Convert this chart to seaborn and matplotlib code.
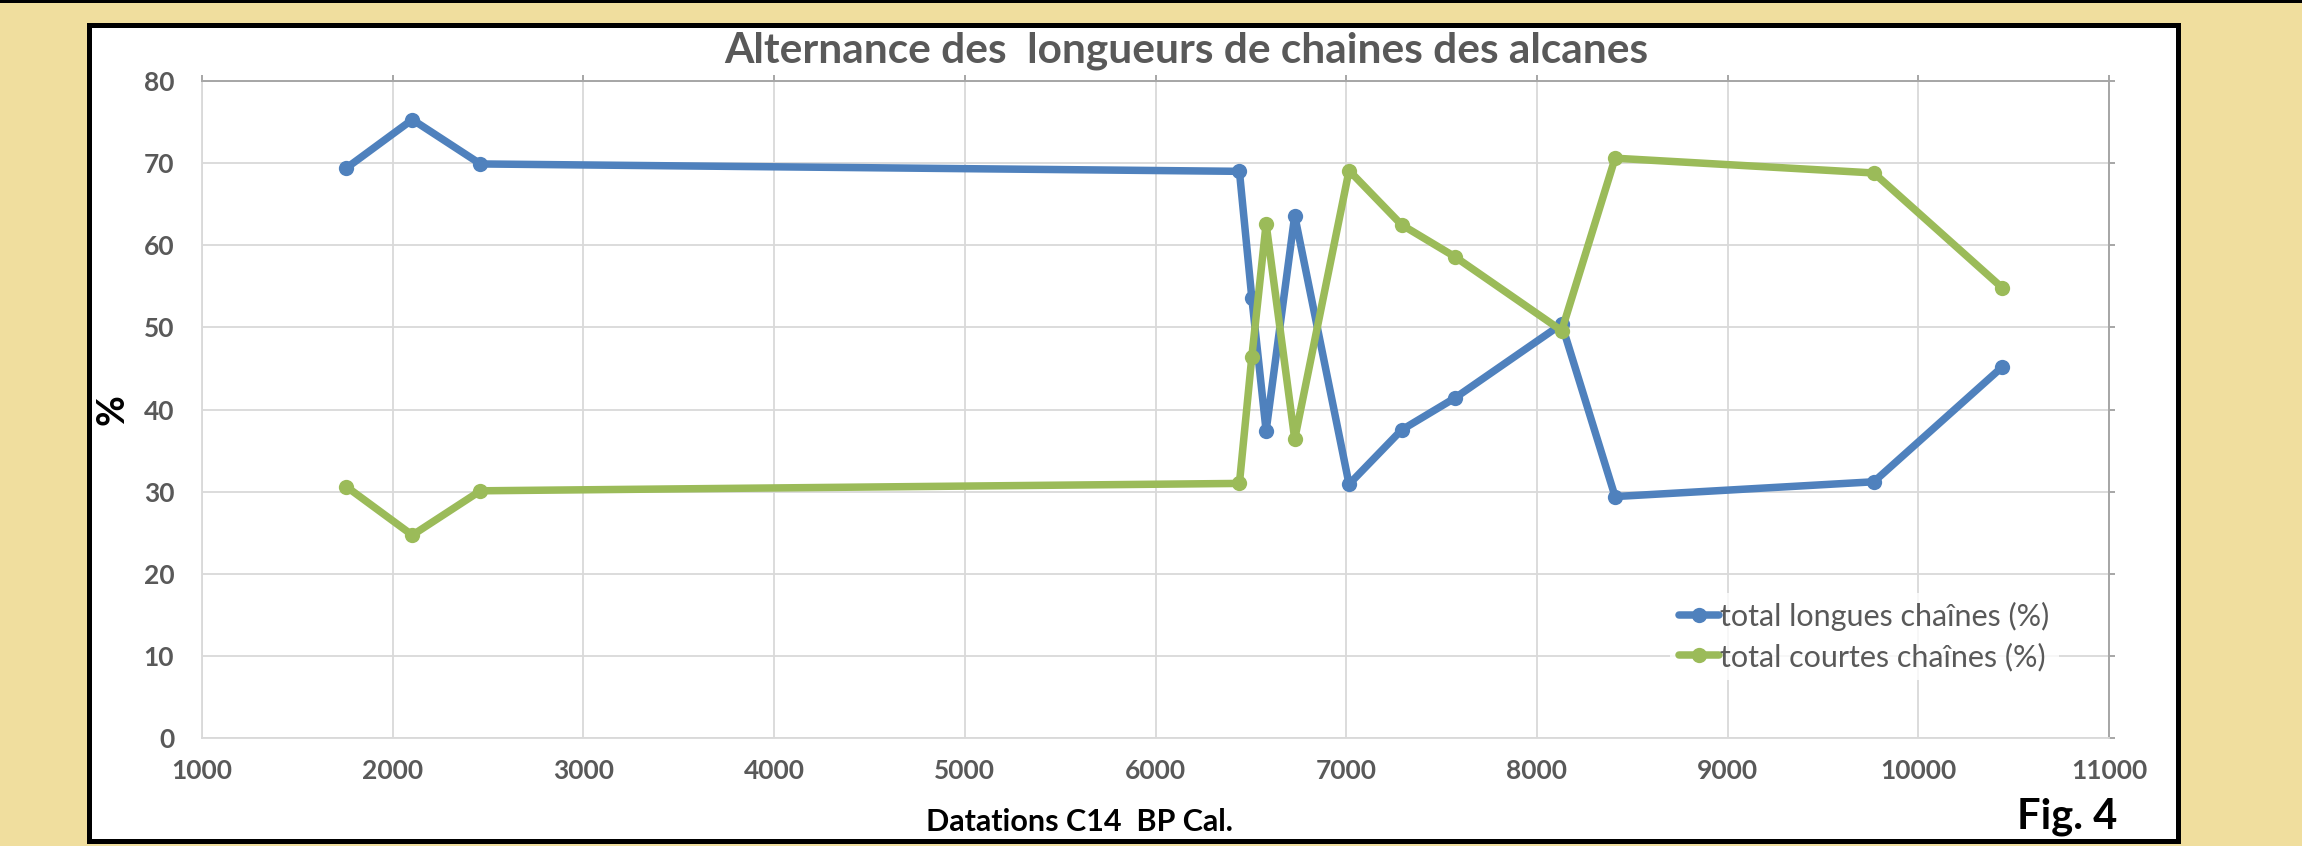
import pandas as pd
import seaborn as sns
import matplotlib.pyplot as plt
from matplotlib.patches import Rectangle

# dates (BP cal.) shared by both series
dates = [1757, 2103, 2460, 6440, 6505, 6580, 6730, 7015, 7290, 7570, 8130, 8410, 9767, 10441]
longues = [69.4, 75.3, 69.9, 69.0, 53.6, 37.4, 63.6, 30.9, 37.5, 41.4, 50.4, 29.4, 31.2, 45.2]
courtes = [30.6, 24.7, 30.1, 31.0, 46.4, 62.6, 36.4, 69.1, 62.5, 58.6, 49.6, 70.6, 68.8, 54.8]

series_names = ["total longues chaînes (%)", "total courtes chaînes (%)"]
series_colors = ["#4F81BD", "#9BBB59"]
x_ticks = list(range(1000, 11001, 1000))
y_ticks = list(range(0, 81, 10))

df = pd.DataFrame({
    "date": dates + dates,
    "pct": longues + courtes,
    "serie": [series_names[0]] * len(dates) + [series_names[1]] * len(dates),
})

sns.set_theme(style="white")
plt.rcParams["font.family"] = ["Lato", "DejaVu Sans"]

W, H = 2302, 846
fig = plt.figure(figsize=(W / 100, H / 100), dpi=100, facecolor="#F0DE9E")

# black stripe at the very top and the black framed white panel
fig.add_artist(Rectangle((0, 1 - 3 / H), 1, 3 / H, transform=fig.transFigure,
                         facecolor="black", edgecolor="none", zorder=-5))
fig.add_artist(Rectangle((88.5 / W, 1 - 840.5 / H), (2177.5 - 88.5) / W, (840.5 - 25.5) / H,
                         transform=fig.transFigure, facecolor="white",
                         edgecolor="black", lw=3.6, zorder=-5))

ax = fig.add_axes([202 / W, 1 - 738 / H, (2109 - 202) / W, (738 - 81) / H])
ax.set_facecolor("white")

sns.lineplot(data=df, x="date", y="pct", hue="serie", palette=series_colors,
             marker="o", markersize=11, markeredgewidth=0, linewidth=5.4,
             sort=False, legend=False, ax=ax)

ax.set_xlim(1000, 11000)
ax.set_ylim(0, 80)
ax.set_xticks(x_ticks)
ax.set_yticks(y_ticks)
ax.grid(True, color="#D9D9D9", linewidth=1.3)
ax.set_axisbelow(True)

for side in ["top", "right"]:
    ax.spines[side].set_color("#A6A6A6")
    ax.spines[side].set_linewidth(1.4)
for side in ["left", "bottom"]:
    ax.spines[side].set_color("#D9D9D9")
    ax.spines[side].set_linewidth(1.3)

ax.tick_params(axis="x", bottom=False, top=True, labelbottom=True, labeltop=False,
               direction="out", length=4, width=1.4, color="#A6A6A6", pad=11,
               labelsize=19, labelcolor="#595959")
ax.tick_params(axis="y", left=False, right=True, labelleft=True, labelright=False,
               direction="out", length=4, width=1.4, color="#A6A6A6", pad=16,
               labelsize=19, labelcolor="#595959")
for lab in ax.get_xticklabels() + ax.get_yticklabels():
    lab.set_fontweight("bold")

ax.set_xlabel("")
ax.set_ylabel("%", fontsize=27, fontweight="bold", color="black", va="center")
ax.yaxis.set_label_coords(-0.047, 0.5)

leg = ax.legend(handles=ax.lines, labels=series_names, loc="center",
                bbox_to_anchor=(0.8716, 0.1545), frameon=True, fontsize=22,
                handlelength=1.3, handletextpad=0.05, labelspacing=0.38,
                borderpad=0.3, fancybox=False)
leg.get_frame().set_facecolor("white")
leg.get_frame().set_edgecolor("none")
for t in leg.get_texts():
    t.set_color("#595959")

fig.text(1186 / W, 1 - 62 / H, "Alternance des  longueurs de chaines des alcanes",
         ha="center", va="baseline", fontsize=30.5, fontweight="bold", color="#595959")
fig.text(1079 / W, 1 - 831 / H, "Datations C14  BP Cal.",
         ha="center", va="baseline", fontsize=22, fontweight="bold", color="black")
fig.text(2117 / W, 1 - 828 / H, "Fig. 4",
         ha="right", va="baseline", fontsize=30, fontweight="bold", color="black")

fig.savefig("out.png", dpi=100, facecolor=fig.get_facecolor())
